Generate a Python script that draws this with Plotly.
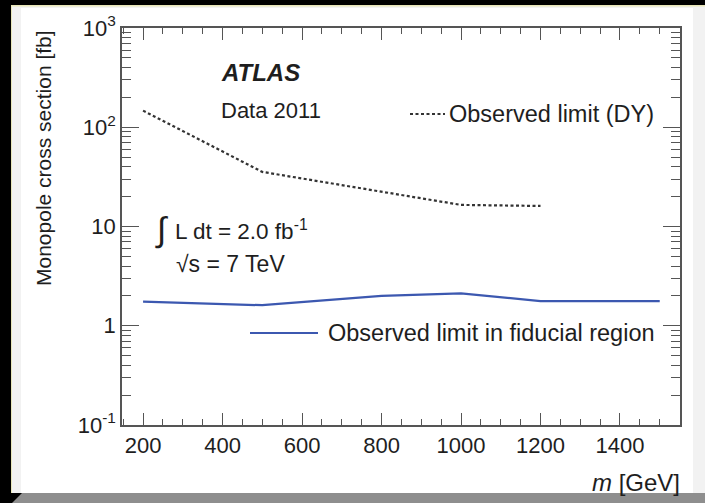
import plotly.graph_objects as go

# ---- data ----
mass_dy = [200, 500, 1000, 1200]
xsec_dy = [147, 35.5, 16.5, 16.1]

mass_fid = [200, 500, 800, 1000, 1200, 1500]
xsec_fid = [1.75, 1.61, 2.0, 2.12, 1.77, 1.77]

x_ticks = [200, 400, 600, 800, 1000, 1200, 1400]
y_tickvals = [0.1, 1, 10, 100, 1000]
y_ticktext = ["10<sup>-1</sup>", "1", "10", "10<sup>2</sup>", "10<sup>3</sup>"]

FONT = "Liberation Sans, Arial, sans-serif"
TXT = "#1e1e1e"
AX = "#555555"

fig = go.Figure()
fig.add_trace(go.Scatter(x=mass_dy, y=xsec_dy, mode="lines",
                         line=dict(color="#333333", width=2.2, dash="3px,2.5px"),
                         showlegend=False))
fig.add_trace(go.Scatter(x=mass_fid, y=xsec_fid, mode="lines",
                         line=dict(color="#3c58b0", width=2.2),
                         showlegend=False))

axis_common = dict(showgrid=False, zeroline=False, showline=True, linecolor=AX,
                   linewidth=1.5, mirror="ticks", ticks="inside", tickcolor=AX,
                   tickwidth=1.3, tickfont=dict(family=FONT, size=22, color=TXT))

fig.update_xaxes(range=[147, 1551], tickvals=x_ticks, ticklen=12,
                 minor=dict(ticks="inside", ticklen=6, dtick=50, tick0=0,
                            tickcolor=AX, tickwidth=1.2, showgrid=False),
                 **axis_common)
fig.update_yaxes(type="log", range=[-1, 3], tickvals=y_tickvals, ticktext=y_ticktext,
                 ticklen=17,
                 minor=dict(ticks="inside", ticklen=9, dtick="D1",
                            tickcolor=AX, tickwidth=1.2, showgrid=False),
                 **axis_common)

L, R, T, B = 122, 25, 28, 78
W, H = 705, 503
pw, ph = W - L - R, H - T - B

def px(x):
    return (x - L) / pw

def py(y):
    return (H - B - y) / ph

shapes = []
# frame decoration
shapes.append(dict(type="rect", xref="paper", yref="paper", layer="below",
                   x0=px(11), x1=px(705), y0=py(493), y1=py(5),
                   fillcolor="#e8e6b8", line=dict(width=0)))
shapes.append(dict(type="rect", xref="paper", yref="paper", layer="below",
                   x0=px(12), x1=px(705), y0=py(493), y1=py(6.5),
                   fillcolor="#f2f2f2", line=dict(width=0)))
shapes.append(dict(type="rect", xref="paper", yref="paper", layer="below",
                   x0=px(21), x1=px(693), y0=py(493), y1=py(8),
                   fillcolor="#ffffff", line=dict(width=0)))
shapes.append(dict(type="path", xref="paper", yref="paper", layer="below",
                   path=f"M {px(12)},{py(503)} L {px(22)},{py(493)} L {px(705)},{py(493)} L {px(705)},{py(503)} Z",
                   fillcolor="#8e8e8e", line=dict(width=0)))
# legend samples
shapes.append(dict(type="line", xref="paper", yref="paper",
                   x0=px(410), x1=px(445), y0=py(114), y1=py(114),
                   line=dict(color="#333333", width=2.2, dash="3px,2.5px")))
shapes.append(dict(type="line", xref="paper", yref="paper",
                   x0=px(250), x1=px(318), y0=py(333), y1=py(333),
                   line=dict(color="#3c58b0", width=2.2)))

ann = []
def text(x, y, s, size=20, xanchor="left", **kw):
    ann.append(dict(x=px(x), y=py(y), xref="paper", yref="paper", text=s,
                    showarrow=False, xanchor=xanchor, yanchor="middle",
                    font=dict(family=FONT, size=size, color=kw.pop("color", TXT)), **kw))

text(219, 72, "<b><i>ATLAS</i></b>", size=24)
text(219, 110, "Data 2011", size=22)
text(447, 114, "Observed limit (DY)", size=23.5)
text(153, 229, "∫", size=34)
text(173, 230, "L dt = 2.0 fb<sup>-1</sup>", size=22.5)
text(174, 264, "√s = 7 TeV", size=23)
text(326, 333, "Observed limit in fiducial region", size=23.5)
text(682, 483, "<i>m</i> [GeV]", size=24, xanchor="right")
ann.append(dict(x=px(43), y=py(158), xref="paper", yref="paper",
                text="Monopole cross section [fb]", showarrow=False, textangle=-90,
                xanchor="center", yanchor="middle",
                font=dict(family=FONT, size=21, color=TXT)))

fig.update_layout(width=W, height=H, margin=dict(l=L, r=R, t=T, b=B),
                  paper_bgcolor="#000000", plot_bgcolor="#ffffff",
                  shapes=shapes, annotations=ann, showlegend=False)

fig.write_html("out.html", config={"displayModeBar": False},
               post_script="document.body.style.margin='0';document.body.style.overflow='hidden';")
